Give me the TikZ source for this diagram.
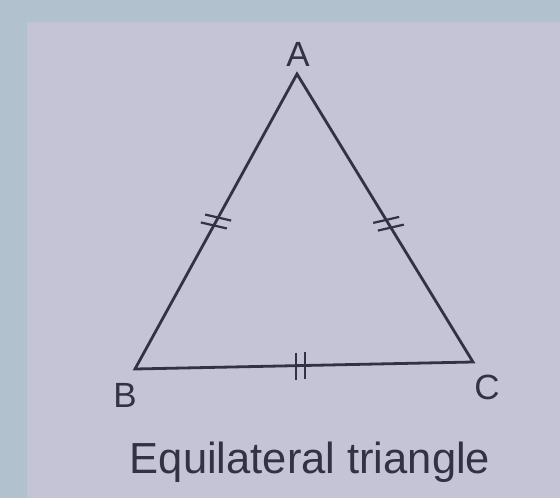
\documentclass[tikz,border=0pt]{standalone}
\usepackage{fontspec}
\setmainfont{Liberation Sans}
\usetikzlibrary{calc}
\definecolor{outerbg}{RGB}{178,193,206}
\definecolor{paper}{RGB}{197,196,215}
\definecolor{ink}{RGB}{50,50,66}
\tikzset{
  side/.style={draw=ink, line width=2.8pt, line join=miter},
  tick/.style={draw=ink, line width=2.2pt},
  vlabel/.style={text=ink, font=\fontsize{35}{35}\selectfont, inner sep=0pt},
  caption/.style={text=ink, font=\fontsize{43.5}{43.5}\selectfont, inner sep=0pt}
}
\begin{document}
\begin{tikzpicture}[x=1pt,y=-1pt]
\fill[outerbg] (0,0) rectangle (560,498);
\fill[paper] (27,22) rectangle (560,498);
\useasboundingbox (0,0) rectangle (560,498);
\coordinate (A) at (297,74);
\coordinate (B) at (135,369);
\coordinate (C) at (473,362);
\draw[side] (A) -- (B) -- (C) -- cycle;
\node[vlabel] (la) at (298,54) {A};
\node[vlabel] (lb) at (125,395) {B};
\node[vlabel] (lc) at (487,387) {C};
\node[caption, anchor=base] (cap) at (310,473) {Equilateral triangle};
% tick marks on AB
\coordinate (mab) at ($(A)!0.5!(B)$);
\foreach \d in {-4.5,4.5}{
  \draw[tick] ($(mab)!\d pt!(A) + (-13,-3)$) -- ($(mab)!\d pt!(A) + (13,3)$);
}
% tick marks on AC
\coordinate (mac) at ($(A)!0.52!(C)$);
\foreach \d in {-4.5,4.5}{
  \draw[tick] ($(mac)!\d pt!(A) + (-13,3)$) -- ($(mac)!\d pt!(A) + (13,-3)$);
}
% tick marks on BC
\coordinate (mbc) at ($(B)!0.49!(C)$);
\foreach \d in {-4.5,4.5}{
  \draw[tick] ($(mbc)!\d pt!(C) + (0,-13)$) -- ($(mbc)!\d pt!(C) + (0,14)$);
}
\end{tikzpicture}
\end{document}
